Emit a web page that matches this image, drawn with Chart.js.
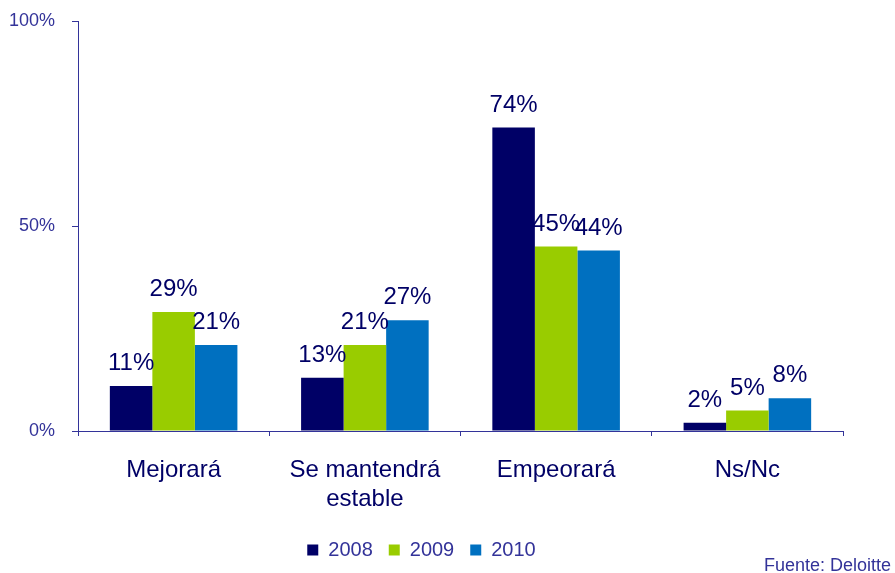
<!DOCTYPE html>
<html>
<head>
<meta charset="utf-8">
<script src="https://cdn.jsdelivr.net/npm/chart.js@4/dist/chart.umd.min.js"></script>
<style>
    html, body { margin: 0; padding: 0; background: #fff; }
    #wrap { position: relative; width: 895px; height: 573px; }
    #source {
        position: absolute; right: 4px; top: 555px;
        font: 18px Arial, "Liberation Sans", sans-serif; color: #333399;
    }
</style>
</head>
<body>
<div id="wrap">
    <canvas id="chart" width="895" height="573"></canvas>
    <div id="source">Fuente: Deloitte</div>
</div>
<script>
const categories = ['Mejorará', ['Se mantendrá', 'estable'], 'Empeorará', 'Ns/Nc'];
const years = ['2008', '2009', '2010'];
const values2008 = [11, 13, 74, 2];
const values2009 = [29, 21, 45, 5];
const values2010 = [21, 27, 44, 8];
const yTicks = [0, 50, 100];

const barColors = ['#000066', '#99cc00', '#0070c0'];
const fontFamily = 'Arial, "Liberation Sans", sans-serif';

// labels above each bar
const barLabels = {
    id: 'barLabels',
    afterDatasetsDraw(chart) {
        const ctx = chart.ctx;
        ctx.save();
        ctx.font = `24px ${fontFamily}`;
        ctx.fillStyle = '#000066';
        ctx.textAlign = 'center';
        ctx.textBaseline = 'alphabetic';
        chart.data.datasets.forEach((ds, i) => {
            chart.getDatasetMeta(i).data.forEach((bar, j) => {
                ctx.fillText(ds.data[j] + '%', bar.x, bar.y - 16);
            });
        });
        ctx.restore();
    }
};

new Chart(document.getElementById('chart'), {
    type: 'bar',
    data: {
        labels: categories,
        datasets: [
            { label: years[0], data: values2008, backgroundColor: barColors[0] },
            { label: years[1], data: values2009, backgroundColor: barColors[1] },
            { label: years[2], data: values2010, backgroundColor: barColors[2] }
        ]
    },
    options: {
        responsive: false,
        animation: false,
        categoryPercentage: 0.667,
        barPercentage: 1,
        layout: { padding: { left: 0, right: 52, top: 21, bottom: 3 } },
        scales: {
            x: {
                grid: { drawOnChartArea: false, tickLength: 5, color: '#333399', offset: true },
                border: { color: '#333399', width: 1 },
                ticks: { color: '#000066', padding: 20, font: { family: fontFamily, size: 24 } },
                afterFit(scale) { scale.height = 93; }
            },
            y: {
                min: 0,
                max: 100,
                afterBuildTicks(scale) { scale.ticks = yTicks.map(v => ({ value: v })); },
                grid: { drawOnChartArea: false, tickLength: 6, color: '#333399' },
                border: { color: '#333399', width: 1 },
                ticks: {
                    color: '#333399', padding: 17,
                    font: { family: fontFamily, size: 18 },
                    callback: v => v + '%'
                },
                afterFit(scale) {
                    scale.width = 78;
                    scale.paddingTop = 0;
                    scale.paddingBottom = 0;
                }
            }
        },
        plugins: {
            legend: {
                position: 'bottom',
                labels: {
                    boxWidth: 11, boxHeight: 11, padding: 16,
                    color: '#333399',
                    font: { family: fontFamily, size: 20 }
                }
            },
            tooltip: { enabled: false }
        }
    },
    plugins: [barLabels]
});
</script>
</body>
</html>
